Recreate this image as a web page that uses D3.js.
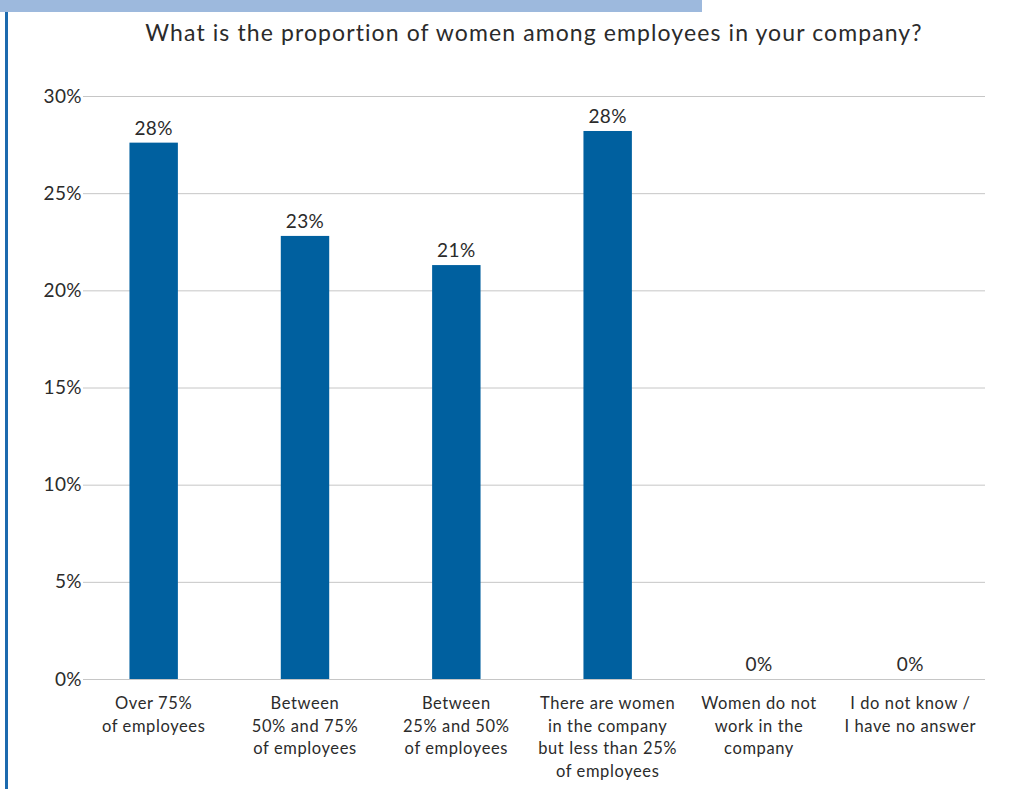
<!DOCTYPE html>
<html>
<head>
<meta charset="utf-8">
<script src="https://cdn.jsdelivr.net/npm/d3@7"></script>
<style>
  html, body { margin: 0; padding: 0; background: #fff; }
  svg text { font-family: Lato, "Open Sans", sans-serif; fill: #2b2b2b; }
</style>
</head>
<body>
<svg id="chart" width="1020" height="789"></svg>
<script>
// Survey answers and their shares of respondents
const categories = [
  ["Over 75%", "of employees"],
  ["Between", "50% and 75%", "of employees"],
  ["Between", "25% and 50%", "of employees"],
  ["There are women", "in the company", "but less than 25%", "of employees"],
  ["Women do not", "work in the", "company"],
  ["I do not know /", "I have no answer"]
];
const shares = [0.276, 0.228, 0.213, 0.282, 0, 0];
const yTicks = [0, 0.05, 0.10, 0.15, 0.20, 0.25, 0.30];
const title = "What is the proportion of women among employees in your company?";

const svg = d3.select("#chart");
const W = 1020, H = 789;
const margin = { top: 96, right: 35, bottom: 110, left: 78 };

// Page decoration: header strip and left rule
svg.append("rect").attr("x", 0).attr("y", 0).attr("width", 702).attr("height", 12).attr("fill", "#9db9dd");
svg.append("rect").attr("x", 5).attr("y", 12).attr("width", 3).attr("height", H - 12).attr("fill", "#1c6aae");

const x = d3.scaleBand()
  .domain(d3.range(categories.length))
  .range([margin.left, W - margin.right + 1])
  .paddingInner(0.68)
  .paddingOuter(0.34);

const y = d3.scaleLinear()
  .domain([0, 0.30])
  .range([H - margin.bottom, margin.top]);

// Horizontal gridlines and percentage tick labels
const yAxis = d3.axisLeft(y)
  .tickValues(yTicks)
  .tickFormat(d3.format(".0%"))
  .tickSize(-(W - margin.right - 83))
  .tickPadding(1);

const gy = svg.append("g")
  .attr("transform", `translate(83,0)`)
  .call(yAxis);
gy.select(".domain").remove();
gy.selectAll(".tick line").attr("stroke", "#c6c6c6").attr("stroke-width", 1);
gy.selectAll(".tick text")
  .attr("font-size", 19)
  .attr("letter-spacing", 0.4)
  .attr("fill", "#2b2b2b");

// Bars
svg.append("g").selectAll("rect")
  .data(shares)
  .join("rect")
  .attr("x", (d, i) => x(i))
  .attr("y", d => y(d))
  .attr("width", x.bandwidth())
  .attr("height", d => y(0) - y(d))
  .attr("fill", "#00609f");

// Value labels above bars
svg.append("g").selectAll("text")
  .data(shares)
  .join("text")
  .attr("x", (d, i) => x(i) + x.bandwidth() / 2)
  .attr("y", d => y(d) - 8)
  .attr("text-anchor", "middle")
  .attr("font-size", 19)
  .attr("letter-spacing", 0.4)
  .text(d => d3.format(".0%")(d));

// Category labels, several lines each
const cat = svg.append("g").selectAll("text")
  .data(categories)
  .join("text")
  .attr("x", (d, i) => x(i) + x.bandwidth() / 2)
  .attr("y", H - margin.bottom + 30)
  .attr("text-anchor", "middle")
  .attr("font-size", 16.5)
  .attr("letter-spacing", 0.6);
cat.selectAll("tspan")
  .data((d, i) => d.map(line => ({ line, i })))
  .join("tspan")
  .attr("x", d => x(d.i) + x.bandwidth() / 2)
  .attr("dy", (d, j) => j === 0 ? 0 : 22.5)
  .text(d => d.line);

// Title
svg.append("text")
  .attr("x", 534)
  .attr("y", 41)
  .attr("text-anchor", "middle")
  .attr("font-size", 23)
  .attr("letter-spacing", 1.1)
  .text(title);
</script>
</body>
</html>
